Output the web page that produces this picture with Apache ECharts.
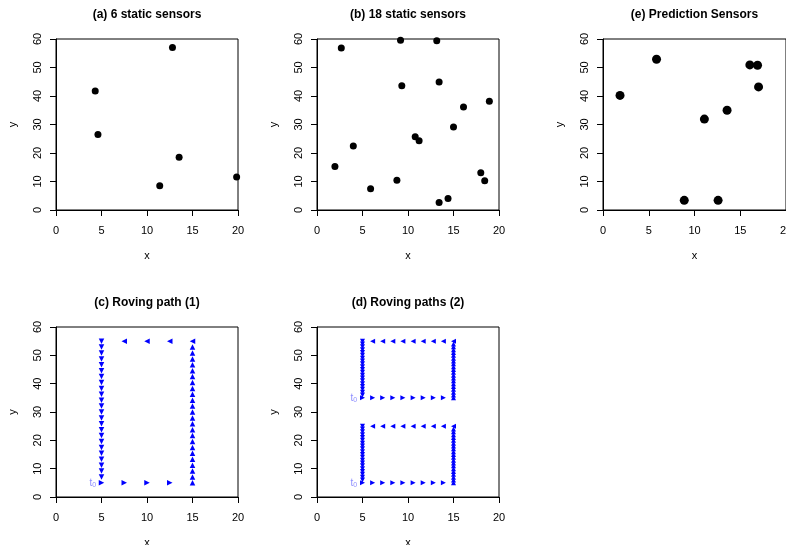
<!DOCTYPE html>
<html><head><meta charset="utf-8">
<script src="https://cdn.jsdelivr.net/npm/echarts@6/dist/echarts.min.js"></script>
<style>html,body{margin:0;padding:0;background:#fff}#c{width:786px;height:545px}</style>
</head><body><div id="c"></div>
<script>
// ---------- data ----------
const panelTitles = ['(a) 6 static sensors', '(b) 18 static sensors', '(e) Prediction Sensors', '(c) Roving path (1)', '(d) Roving paths (2)'];
const xTickValues = [0, 5, 10, 15, 20];
const yTickValues = [0, 10, 20, 30, 40, 50, 60];

const sensorsA = [[4.31, 41.75], [4.61, 26.5], [12.8, 57.0], [13.53, 18.5], [11.4, 8.5], [19.85, 11.6]];
const sensorsB = [[1.97, 15.3], [2.67, 56.8], [3.99, 22.5], [5.89, 7.5], [8.78, 10.4], [9.18, 59.6],
  [9.32, 43.6], [10.79, 25.7], [11.22, 24.3], [13.16, 59.4], [13.42, 44.9], [13.42, 2.6],
  [14.4, 4.0], [15.0, 29.1], [16.1, 36.1], [18.0, 13.1], [18.43, 10.3], [18.94, 38.2]];
const sensorsE = [[1.86, 40.2], [5.85, 52.9], [8.88, 3.4], [11.08, 31.9], [12.58, 3.4], [13.56, 35.0],
  [16.05, 50.9], [16.89, 50.8], [17.0, 43.2]];

// (c) roving path (1)
const cRightX = [5, 7.5, 10, 12.5];                // y = 5, moving right
const cRightY = 5;
const cUpY = [5, 7.08, 9.17, 11.25, 13.33, 15.42, 17.5, 19.58, 21.67, 23.75, 25.83, 27.92, 30,
  32.08, 34.17, 36.25, 38.33, 40.42, 42.5, 44.58, 46.67, 48.75, 50.83, 52.92];   // x = 15, moving up
const cUpX = 15;
const cLeftX = [15, 12.5, 10, 7.5];               // y = 55, moving left
const cLeftY = 55;
const cDownY = [55, 52.92, 50.83, 48.75, 46.67, 44.58, 42.5, 40.42, 38.33, 36.25, 34.17, 32.08, 30,
  27.92, 25.83, 23.75, 21.67, 19.58, 17.5, 15.42, 13.33, 11.25, 9.17, 7.08];      // x = 5, moving down
const cDownX = 5;
const cStart = [[4.05, 5]];

// (d) roving paths (2): two loops
const dRightX = [5, 6.11, 7.22, 8.33, 9.44, 10.56, 11.67, 12.78, 13.89];
const dRightY = [5, 35];
const dUpYLower = [5, 6, 7, 8, 9, 10, 11, 12, 13, 14, 15, 16, 17, 18, 19, 20, 21, 22, 23, 24];
const dUpYUpper = [35, 36, 37, 38, 39, 40, 41, 42, 43, 44, 45, 46, 47, 48, 49, 50, 51, 52, 53, 54];
const dUpX = 15;
const dLeftX = [15, 13.89, 12.78, 11.67, 10.56, 9.44, 8.33, 7.22, 6.11];
const dLeftY = [25, 55];
const dDownYLower = [25, 24, 23, 22, 21, 20, 19, 18, 17, 16, 15, 14, 13, 12, 11, 10, 9, 8, 7, 6];
const dDownYUpper = [55, 54, 53, 52, 51, 50, 49, 48, 47, 46, 45, 44, 43, 42, 41, 40, 39, 38, 37, 36];
const dDownX = 5;
const dStart = [[4.05, 5], [4.05, 35]];

// ---------- chart ----------
const FONT = '"Liberation Sans", Arial, Helvetica, sans-serif';
const grids = [
  {left: 56, top: 39, width: 182, height: 171},
  {left: 317, top: 39, width: 182, height: 171},
  {left: 603, top: 39, width: 183, height: 171},
  {left: 56, top: 327, width: 182, height: 170},
  {left: 317, top: 327, width: 182, height: 170}
].map(g => Object.assign({show: true, borderColor: '#000', borderWidth: 1, backgroundColor: 'transparent',
  containLabel: false, outerBoundsMode: 'none'}, g));
const gridCenters = [147, 408, 694.5, 147, 408];

const xAxes = grids.map((g, i) => ({
  gridIndex: i, type: 'value', min: xTickValues[0], max: xTickValues[xTickValues.length - 1],
  interval: xTickValues[1] - xTickValues[0],
  name: 'x', nameLocation: 'middle', nameGap: 40,
  nameTextStyle: {fontFamily: FONT, fontSize: 11, color: '#000'},
  axisLine: {show: true, onZero: false, lineStyle: {color: '#000', width: 1}},
  axisTick: {show: true, length: 6, lineStyle: {color: '#000'}},
  axisLabel: {margin: 15, fontFamily: FONT, fontSize: 11, color: '#000', showMinLabel: true, showMaxLabel: true},
  splitLine: {show: false}
}));
const yAxes = grids.map((g, i) => ({
  gridIndex: i, type: 'value', min: yTickValues[0], max: yTickValues[yTickValues.length - 1],
  interval: yTickValues[1] - yTickValues[0],
  name: 'y', nameLocation: 'middle', nameGap: 38, nameRotate: 90,
  nameTextStyle: {fontFamily: FONT, fontSize: 11, color: '#000'},
  axisLine: {show: true, onZero: false, lineStyle: {color: '#000', width: 1}},
  axisTick: {show: true, length: 6, lineStyle: {color: '#000'}},
  axisLabel: {rotate: 90, margin: 13, fontFamily: FONT, fontSize: 11, color: '#000', showMinLabel: true, showMaxLabel: true},
  splitLine: {show: false}
}));

const titleObjs = panelTitles.map((t, i) => ({
  text: t, left: gridCenters[i], top: grids[i].top - 30, textAlign: 'center', padding: 0,
  textStyle: {fontFamily: FONT, fontSize: 12, fontWeight: 'bold', color: '#000'}
}));

function dots(data, gi, size) {
  return {type: 'scatter', xAxisIndex: gi, yAxisIndex: gi, data: data, symbol: 'circle', symbolSize: size,
    itemStyle: {color: '#000', opacity: 1}, clip: false, silent: true, animation: false};
}
function tri(data, gi, rot, size) {
  return {type: 'scatter', xAxisIndex: gi, yAxisIndex: gi, data: data, symbol: 'triangle', symbolRotate: rot,
    symbolSize: size, itemStyle: {color: '#0000ff', opacity: 1}, clip: false, silent: true, animation: false};
}
function startLabel(data, gi) {
  return {type: 'scatter', xAxisIndex: gi, yAxisIndex: gi, data: data, symbolSize: 1,
    itemStyle: {color: 'rgba(0,0,0,0)'}, silent: true, animation: false,
    label: {show: true, position: 'inside', formatter: '{t|t}{z|0}',
      rich: {t: {fontFamily: FONT, fontSize: 10, color: '#7070ff'}, z: {fontFamily: FONT, fontSize: 7, color: '#7070ff', padding: [4, 0, 0, 0]}}}};
}

const series = [
  dots(sensorsA, 0, 7), dots(sensorsB, 1, 7), dots(sensorsE, 2, 9),
  tri(cRightX.map(x => [x, cRightY]), 3, -90, 5.5),
  tri(cUpY.map(y => [cUpX, y]), 3, 0, 5.5),
  tri(cLeftX.map(x => [x, cLeftY]), 3, 90, 5.5),
  tri(cDownY.map(y => [cDownX, y]), 3, 180, 5.5),
  startLabel(cStart, 3),
  tri(dRightY.flatMap(y => dRightX.map(x => [x, y])), 4, -90, 5),
  tri(dUpYLower.concat(dUpYUpper).map(y => [dUpX, y]), 4, 0, 5),
  tri(dLeftY.flatMap(y => dLeftX.map(x => [x, y])), 4, 90, 5),
  tri(dDownYLower.concat(dDownYUpper).map(y => [dDownX, y]), 4, 180, 5),
  startLabel(dStart, 4)
];

const chart = echarts.init(document.getElementById('c'), null, {renderer: 'canvas'});
chart.setOption({
  backgroundColor: '#fff', animation: false,
  title: titleObjs, grid: grids, xAxis: xAxes, yAxis: yAxes, series: series
});
</script></body></html>
